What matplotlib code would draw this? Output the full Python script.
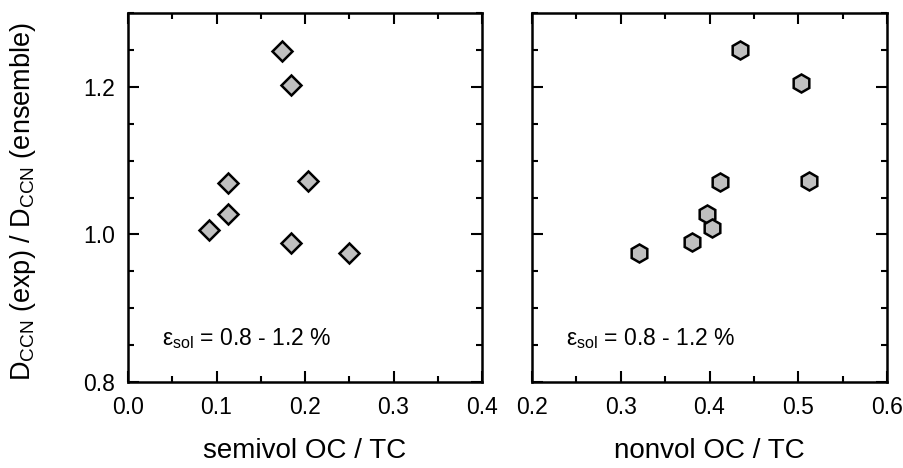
import matplotlib
matplotlib.use('Agg')
import matplotlib.pyplot as plt
from matplotlib.ticker import MultipleLocator, FormatStrFormatter

plt.rcParams['font.family'] = ['Liberation Sans', 'DejaVu Sans']
plt.rcParams['mathtext.fontset'] = 'custom'
plt.rcParams['mathtext.rm'] = 'Liberation Sans'
plt.rcParams['mathtext.it'] = 'Liberation Sans'

# ratio D_CCN(exp) / D_CCN(ensemble)
semivol = [0.174, 0.184, 0.113, 0.203, 0.113, 0.092, 0.184, 0.250]
semivol_ratio = [1.248, 1.202, 1.069, 1.072, 1.027, 1.006, 0.989, 0.975]

nonvol = [0.434, 0.503, 0.412, 0.512, 0.397, 0.403, 0.380, 0.320]
nonvol_ratio = [1.250, 1.205, 1.071, 1.073, 1.027, 1.008, 0.990, 0.975]

label_txt = 'ε$_{\\mathregular{sol}}$ = 0.8 - 1.2 %'

fig = plt.figure(figsize=(9.04, 4.68), dpi=100)
ax1 = fig.add_axes([128/904, 86/468, 354/904, 369/468])
ax2 = fig.add_axes([532/904, 86/468, 355/904, 369/468])

ax1.plot(semivol, semivol_ratio, 'D', ms=10.5, mfc='#c0c0c0', mec='black', mew=1.8, ls='none')
ax2.plot(nonvol, nonvol_ratio, 'h', ms=13, mfc='#c0c0c0', mec='black', mew=1.8, ls='none')

ax1.set_xlim(0.0, 0.4)
ax2.set_xlim(0.2, 0.6)
for ax in (ax1, ax2):
    ax.set_ylim(0.8, 1.3)
    ax.xaxis.set_major_locator(MultipleLocator(0.1))
    ax.xaxis.set_minor_locator(MultipleLocator(0.05))
    ax.yaxis.set_major_locator(MultipleLocator(0.2))
    ax.yaxis.set_minor_locator(MultipleLocator(0.05))
    ax.tick_params(which='both', direction='in', top=True, right=True, width=1.5, labelsize=16.5)
    ax.tick_params(axis='x', pad=10)
    ax.tick_params(axis='y', pad=9)
    ax.tick_params(which='major', length=8)
    ax.tick_params(which='minor', length=4.5)
    for s in ax.spines.values():
        s.set_linewidth(1.8)
    ax.xaxis.set_major_formatter(FormatStrFormatter('%.1f'))
    ax.yaxis.set_major_formatter(FormatStrFormatter('%.1f'))

ax2.tick_params(labelleft=False)

ax1.text(0.038, 0.85, label_txt, fontsize=16.5)
ax2.text(0.238, 0.85, label_txt, fontsize=16.5)

ax1.set_xlabel('semivol OC / TC', fontsize=20, labelpad=14)
ax2.set_xlabel('nonvol OC / TC', fontsize=20, labelpad=14)
ax1.set_ylabel('D$_{\\mathregular{CCN}}$ (exp) / D$_{\\mathregular{CCN}}$ (ensemble)', fontsize=19.5)
ax1.yaxis.set_label_coords(-0.255, 0.49)

fig.savefig('out.png', dpi=100)
